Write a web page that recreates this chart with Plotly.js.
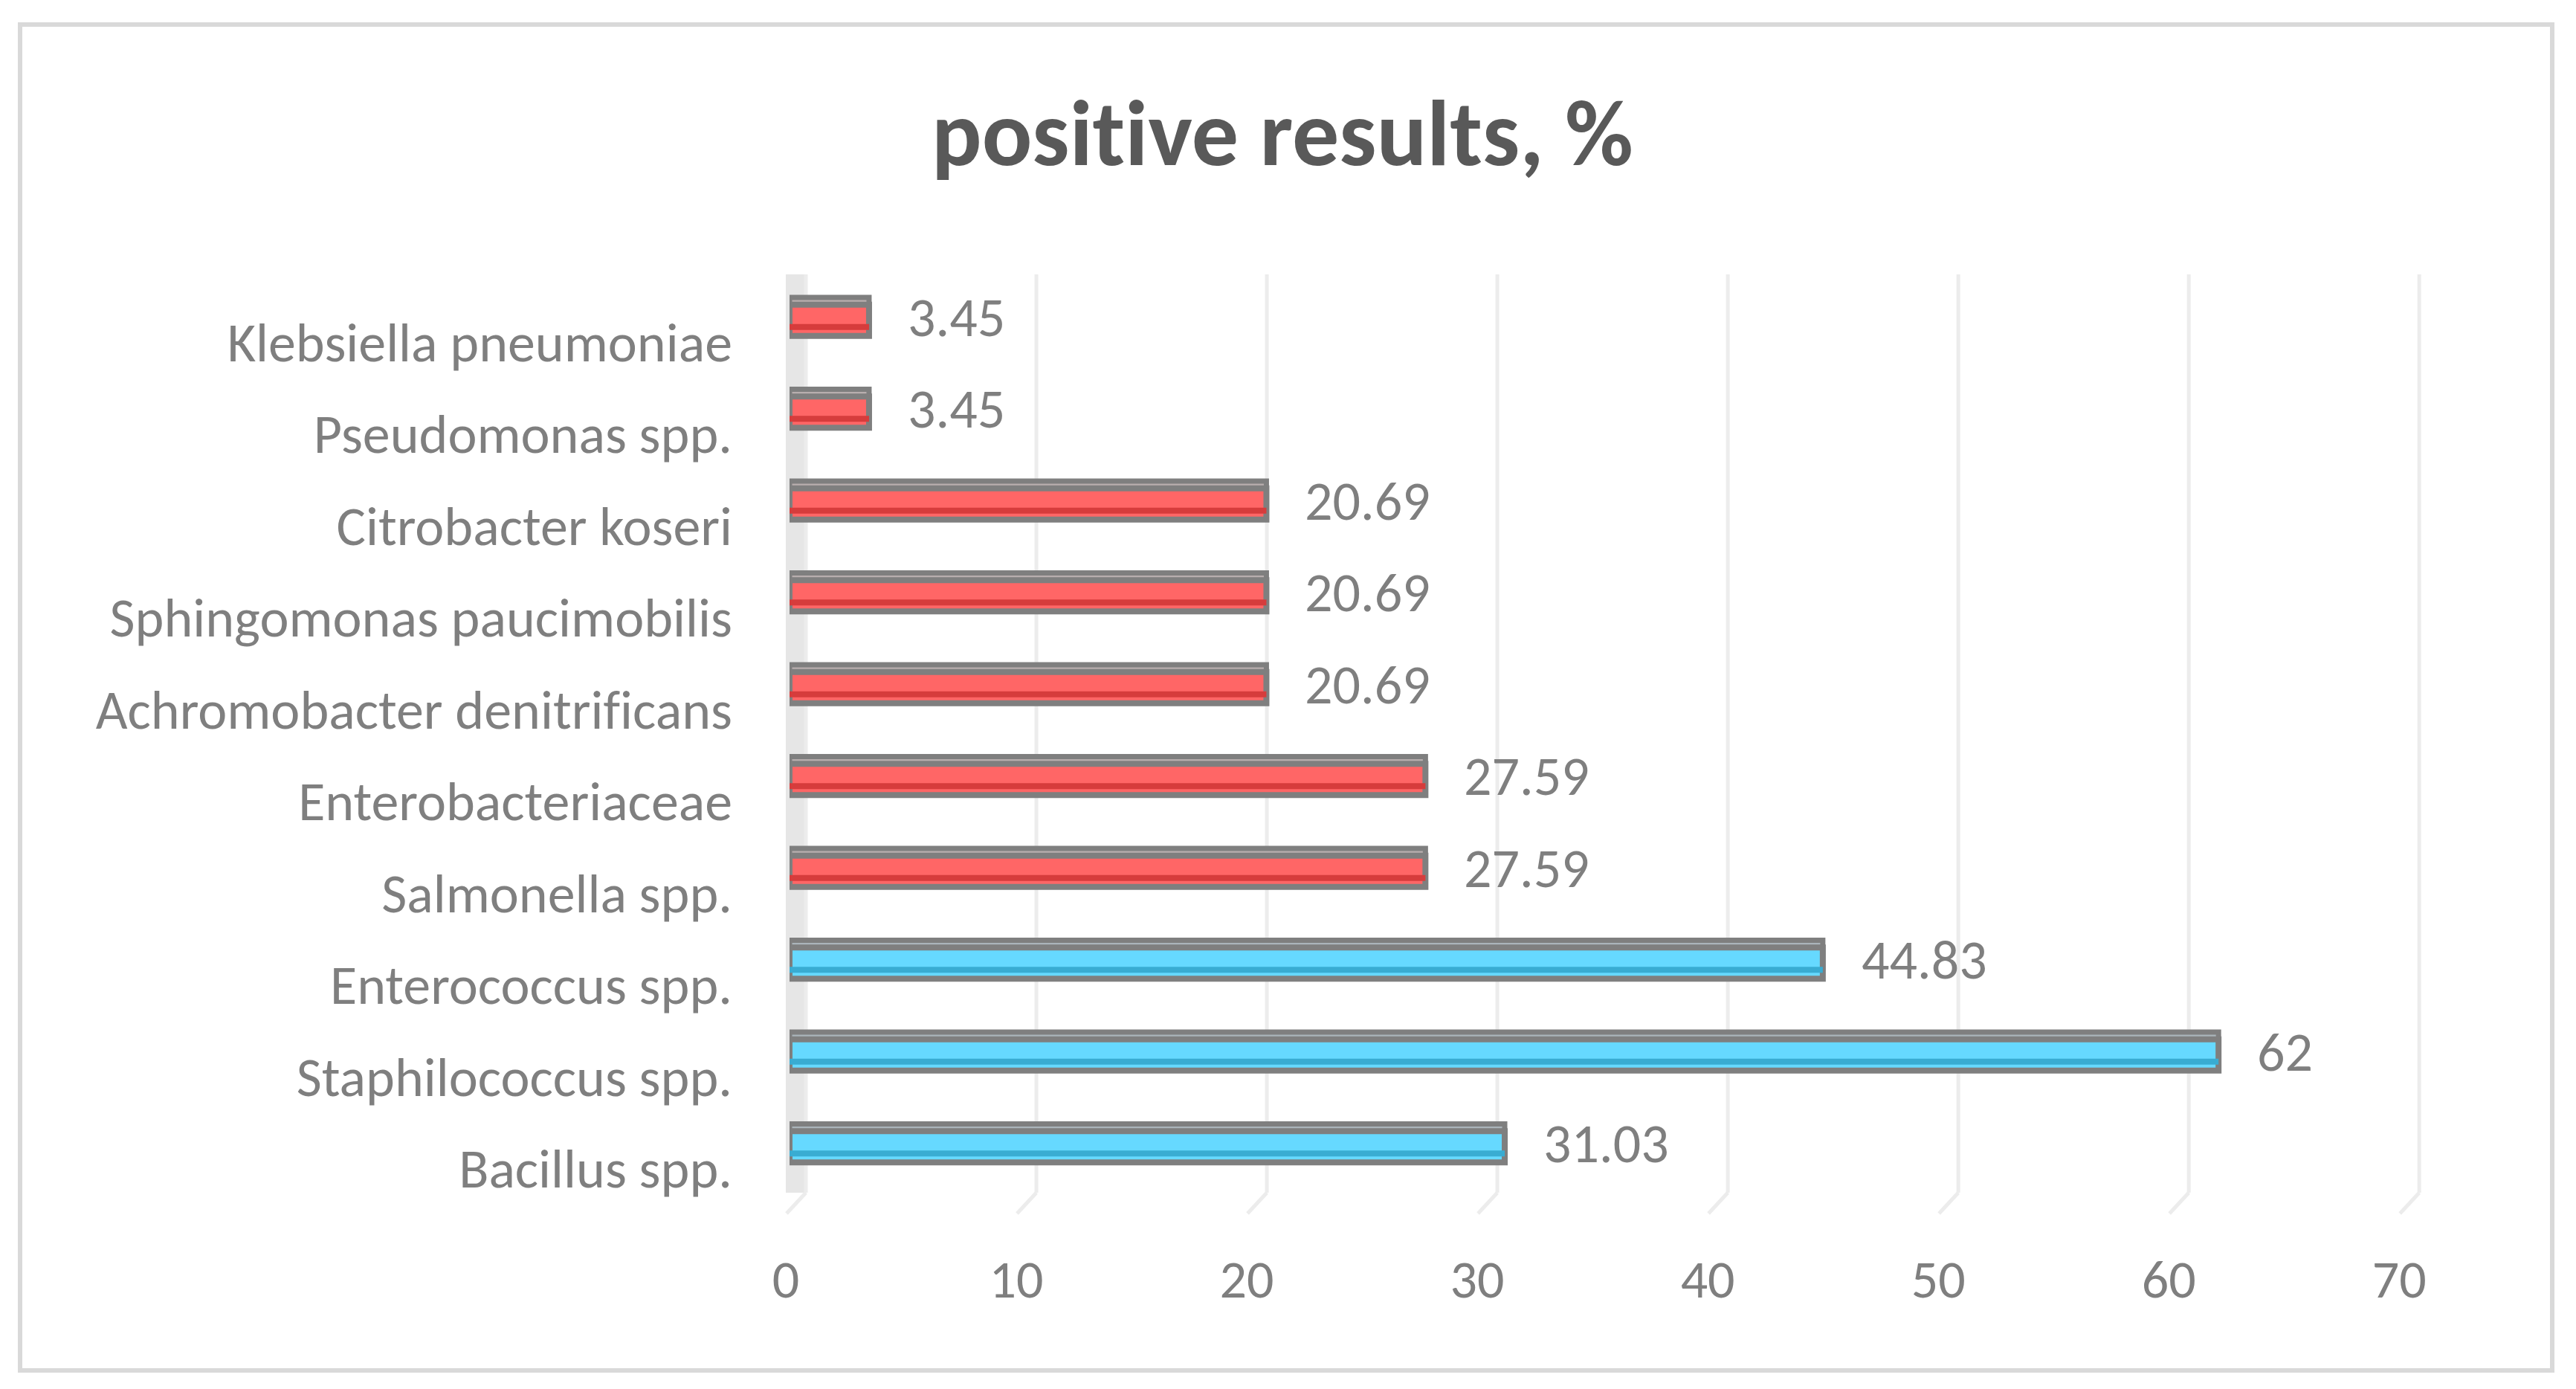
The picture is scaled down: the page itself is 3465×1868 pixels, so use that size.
<!DOCTYPE html>
<html>
<head>
<meta charset="utf-8">
<script src="https://cdn.plot.ly/plotly-3.0.1.min.js"></script>
<style>
  html, body { margin: 0; padding: 0; background: #ffffff; }
  #wrap { position: relative; width: 3465px; height: 1868px; }
  #chart { position: absolute; left: 0; top: 0; width: 3465px; height: 1868px; }
  #frame { position: absolute; left: 24px; top: 30px; width: 3400px; height: 1804px;
           border: 6px solid #d9d9d9; pointer-events: none; }
  svg text { font-variant-ligatures: none !important; font-feature-settings: "liga" 0, "clig" 0 !important; }
</style>
</head>
<body>
<div id="wrap">
  <div id="chart"></div>
  <div id="frame"></div>
</div>
<script>
// ---- data (bottom to top, as drawn) ----
const categories = [
  "Bacillus spp.",
  "Staphilococcus spp.",
  "Enterococcus spp.",
  "Salmonella spp.",
  "Enterobacteriaceae",
  "Achromobacter denitrificans",
  "Sphingomonas paucimobilis",
  "Citrobacter koseri",
  "Pseudomonas spp.",
  "Klebsiella pneumoniae"
];
const values = [31.03, 62, 44.83, 27.59, 27.59, 20.69, 20.69, 20.69, 3.45, 3.45];
const groups = ["blue", "blue", "blue", "red", "red", "red", "red", "red", "red", "red"];
const xTickVals = [0, 10, 20, 30, 40, 50, 60, 70];
const xTickText = ["0", "10", "20", "30", "40", "50", "60", "70"];
const chartTitle = "positive results, %";

// ---- styles ----
const FONT = "Carlito, Lato, 'Open Sans', sans-serif";
const faceColor  = { red: "#ff6666", blue: "#66d9ff" };
const darkColor  = { red: "#d63c3c", blue: "#39acd2" };
const topColor   = { red: "#b8aeae", blue: "#aab4ba" };
const outline = "#7f7f7f";
const xMax = 70.8;

const backTrace = {
  type: "bar", orientation: "h", y: categories, x: values,
  width: 0.30, offset: -0.05,
  marker: { color: groups.map(g => topColor[g]), line: { color: outline, width: 7 } },
  hoverinfo: "skip", showlegend: false
};
const frontTrace = {
  type: "bar", orientation: "h", y: categories, x: values,
  width: 0.34, offset: -0.17,
  marker: { color: groups.map(g => faceColor[g]), line: { color: outline, width: 8 } },
  hoverinfo: "skip", showlegend: false
};
const darkTrace = {
  type: "bar", orientation: "h", y: categories, x: values,
  width: 0.065, offset: -0.105,
  marker: { color: groups.map(g => darkColor[g]), line: { width: 0 } },
  hoverinfo: "skip", showlegend: false
};

// value labels
const annotations = categories.map((c, i) => ({
  x: values[i], y: c, xref: "x", yref: "y",
  text: String(values[i]), showarrow: false,
  xanchor: "left", yanchor: "middle", xshift: 50, yshift: 4,
  font: { family: FONT, size: 74, color: "#7f7f7f" }
}));

// back-wall gridlines, floor diagonals and left wall (3D look)
const shapes = [];
shapes.push({
  type: "rect", xref: "paper", yref: "paper", xsizemode: "pixel", xanchor: 0,
  x0: -5, x1: 21, y0: 0, y1: 1, fillcolor: "#e6e6e6", line: { width: 0 }, layer: "below"
});
xTickVals.forEach(t => {
  const ax = t / xMax;
  shapes.push({
    type: "line", xref: "paper", yref: "paper", xsizemode: "pixel", xanchor: ax,
    x0: 22, x1: 22, y0: 0, y1: 1, line: { color: "#ececec", width: 5 }, layer: "below"
  });
  shapes.push({
    type: "line", xref: "paper", yref: "paper", xsizemode: "pixel", xanchor: ax,
    ysizemode: "pixel", yanchor: 0,
    x0: 22, x1: -4, y0: 0, y1: -28, line: { color: "#ececec", width: 5 }, layer: "below"
  });
});

const layout = {
  width: 3465, height: 1868,
  paper_bgcolor: "#ffffff", plot_bgcolor: "rgba(0,0,0,0)",
  margin: { l: 1062, r: 3465 - 1062 - Math.round(31 * xMax), t: 369, b: 264, pad: 0 },
  barmode: "overlay",
  title: {
    text: "<b>" + chartTitle + "</b>",
    xref: "container", yref: "container", x: 1725 / 3465, y: 1 - 178 / 1868,
    xanchor: "center", yanchor: "middle",
    font: { family: FONT, size: 126, color: "#595959" }
  },
  xaxis: {
    range: [0, xMax], tickvals: xTickVals, ticktext: xTickText,
    showgrid: false, zeroline: false, showline: false, ticks: "",
    ticklabelstandoff: 68, ticklabelshift: -5,
    tickfont: { family: FONT, size: 72, color: "#7f7f7f" }, fixedrange: true
  },
  yaxis: {
    type: "category", categoryorder: "array", categoryarray: categories,
    range: [-0.5, categories.length - 0.5],
    showgrid: false, zeroline: false, showline: false, ticks: "",
    ticklabelstandoff: 76, ticklabelshift: 29,
    tickfont: { family: FONT, size: 74, color: "#7f7f7f" }, fixedrange: true
  },
  shapes: shapes,
  annotations: annotations
};

Plotly.newPlot("chart", [backTrace, frontTrace, darkTrace], layout, { displayModeBar: false, staticPlot: true });
</script>
</body>
</html>
